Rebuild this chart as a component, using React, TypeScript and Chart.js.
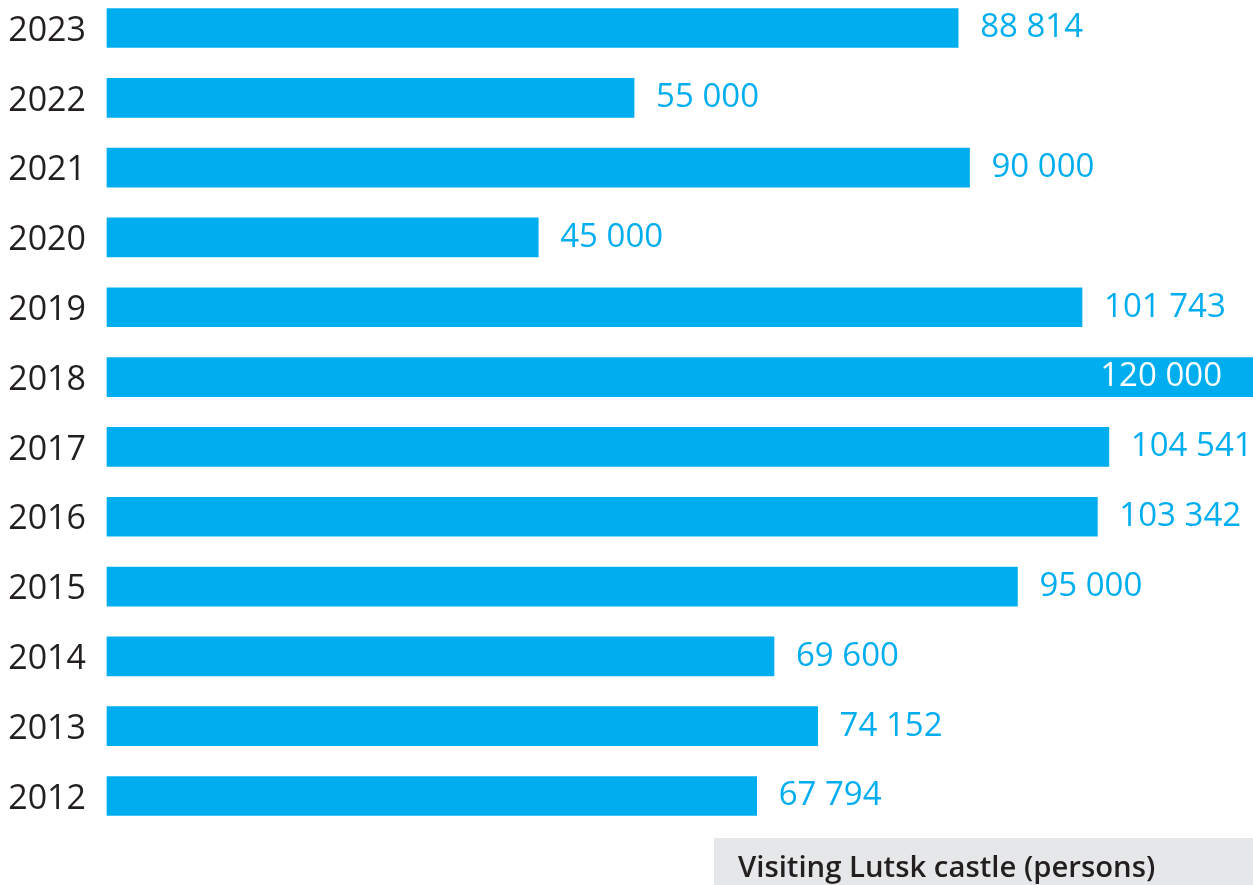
import React, { useEffect, useRef } from "react";
import { Chart, registerables } from "chart.js";

Chart.register(...registerables);

const years = ["2023", "2022", "2021", "2020", "2019", "2018", "2017", "2016", "2015", "2014", "2013", "2012"];
const visitors = [88814, 55000, 90000, 45000, 101743, 120000, 104541, 103342, 95000, 69600, 74152, 67794];
const captionText = "Visiting Lutsk castle (persons)";
const axisMax = 120000;

const BAR_COLOR = "#00aeef";
const TEXT_DARK = "#231f20";
const VIEW_W = 1253;
const VIEW_H = 885;
const CANVAS_W = 1257;

function fmt(v: number): string {
  return String(v).replace(/\B(?=(\d{3})+(?!\d))/g, " ");
}

const valueLabels = {
  id: "valueLabels",
  afterDatasetsDraw(chart: any) {
    const ctx = chart.ctx as CanvasRenderingContext2D;
    const meta = chart.getDatasetMeta(0);
    const area = chart.chartArea;
    ctx.save();
    ctx.font = '33px "Open Sans"';
    ctx.textBaseline = "middle";
    meta.data.forEach((bar: any, i: number) => {
      const text = fmt(visitors[i]);
      if (bar.x >= area.right - 1) {
        ctx.fillStyle = "#ffffff";
        ctx.textAlign = "right";
        ctx.fillText(text, bar.x - 35, bar.y);
      } else {
        ctx.fillStyle = BAR_COLOR;
        ctx.textAlign = "left";
        ctx.fillText(text, bar.x + 22, bar.y);
      }
    });
    // caption box
    ctx.fillStyle = "#e6e7e8";
    ctx.fillRect(714, 838, CANVAS_W - 714, VIEW_H - 838);
    ctx.fillStyle = TEXT_DARK;
    ctx.font = '600 29.3px "Open Sans"';
    ctx.textAlign = "left";
    ctx.textBaseline = "alphabetic";
    ctx.fillText(captionText, 738, 877);
    ctx.restore();
  },
};

export default function App() {
  const canvasRef = useRef<HTMLCanvasElement | null>(null);

  useEffect(() => {
    const canvas = canvasRef.current;
    if (!canvas) return;
    const chart = new Chart(canvas, {
      type: "bar",
      data: {
        labels: years,
        datasets: [
          {
            data: visitors,
            backgroundColor: BAR_COLOR,
            borderWidth: 0,
            barThickness: 39,
            clip: false as any,
          },
        ],
      },
      options: {
        indexAxis: "y",
        responsive: false,
        animation: false,
        layout: { padding: { top: 28, bottom: VIEW_H - 796, left: 0, right: 0 } },
        plugins: {
          legend: { display: false },
          tooltip: { enabled: false },
        },
        scales: {
          x: {
            display: false,
            min: 0,
            max: axisMax,
          },
          y: {
            type: "category",
            offset: false,
            grid: { display: false, drawTicks: false },
            border: { display: false },
            ticks: {
              color: TEXT_DARK,
              padding: 21,
              labelOffset: 3,
              font: { family: '"Open Sans"', size: 34 },
            },
            afterFit(scale: any) {
              scale.width = 107;
              scale.paddingTop = 0;
              scale.paddingBottom = 0;
            },
          },
        },
      },
      plugins: [valueLabels],
    });
    return () => chart.destroy();
  }, []);

  return (
    <div
      style={{
        position: "fixed",
        left: 0,
        top: 0,
        width: VIEW_W,
        height: VIEW_H,
        overflow: "hidden",
        background: "#ffffff",
      }}
    >
      <canvas ref={canvasRef} width={CANVAS_W} height={VIEW_H} style={{ display: "block" }} />
    </div>
  );
}
